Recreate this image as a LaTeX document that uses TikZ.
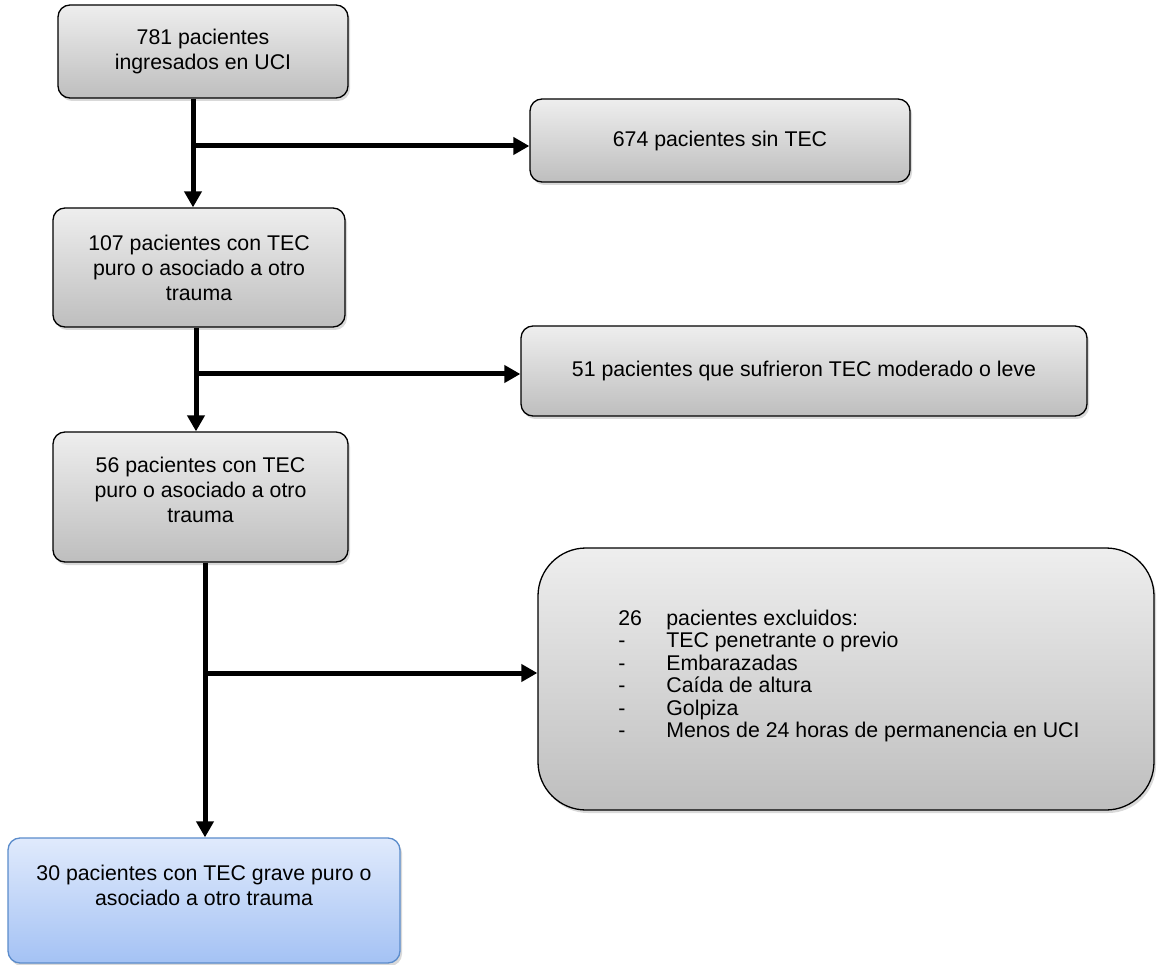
\documentclass[tikz,border=0pt]{standalone}
\usepackage{fontspec}
\setmainfont{Liberation Sans}
\usetikzlibrary{shadows,arrows.meta,calc}
\newcommand\myfsz{\fontsize{21.3}{25}\selectfont}
\definecolor{boxtop}{HTML}{EEEEEE}
\definecolor{boxbot}{HTML}{BEBEBE}
\definecolor{bluetop}{HTML}{E0EAFC}
\definecolor{bluebot}{HTML}{A4C2F4}
\definecolor{blueline}{HTML}{5B8CCB}
\begin{document}
\begin{tikzpicture}[x=1pt,y=-1pt,
  box/.style={draw=black, line width=1.3pt, rounded corners=12pt,
    top color=boxtop, bottom color=boxbot,
    drop shadow={shadow xshift=2pt,shadow yshift=-3pt,opacity=0.3},
    inner sep=0pt, align=center, font=\myfsz},
  bluebox/.style={box, draw=blueline, top color=bluetop, bottom color=bluebot},
  arr/.style={line width=5pt, -{Triangle[length=16pt,width=17pt]}},
  txt/.style={align=center, font=\myfsz, inner sep=0pt}
]
\useasboundingbox (0,0) rectangle (1157,965);

\node[box, minimum width=290pt, minimum height=93pt] (b1) at (203,51.5)
  {781 pacientes\\ingresados en UCI};
\node[box, minimum width=380pt, minimum height=83pt] (b2) at (720,140.5)
  {674 pacientes sin TEC};
\node[box, minimum width=292pt, minimum height=119pt] (b3) at (199,267.5)
  {107 pacientes con TEC\\puro o asociado a otro\\trauma};
\node[box, minimum width=566pt, minimum height=90pt] (b4) at (804,371)
  {51 pacientes que sufrieron TEC moderado o leve};
\node[box, minimum width=295pt, minimum height=130pt,
  label={[txt, yshift=7pt]center:{56 pacientes con TEC\\puro o asociado a otro\\trauma}}] (b5) at (200.5,497) {};
\node[box, rounded corners=48pt, minimum width=616pt, minimum height=262pt,
  label={[txt, xshift=3pt, yshift=2pt]center:{\fontsize{21.3}{22.5}\selectfont
    \begin{tabular}{@{}p{48pt}@{}l@{}}
    26 & pacientes excluidos:\\
    - & TEC penetrante o previo\\
    - & Embarazadas\\
    - & Caída de altura\\
    - & Golpiza\\
    - & Menos de 24 horas de permanencia en UCI
    \end{tabular}}}] (b6) at (846,679) {};
\node[bluebox, minimum width=392pt, minimum height=125pt,
  label={[txt, yshift=15pt]center:{30 pacientes con TEC grave puro o\\asociado a otro trauma}}] (b7) at (204,900.5) {};

\coordinate (v1) at (193,0);
\coordinate (v2) at (196,0);
\coordinate (v3) at (205,0);
\coordinate (j1) at (193,146);
\coordinate (j2) at (196,374);
\coordinate (j3) at (205,673);

\draw[arr] (b1.south -| v1) -- (b3.north -| v1);
\draw[arr] (j1) -- (b2.west |- j1);
\draw[arr] (b3.south -| v2) -- (b5.north -| v2);
\draw[arr] (j2) -- (b4.west |- j2);
\draw[arr] (b5.south -| v3) -- (b7.north -| v3);
\draw[arr] (j3) -- (b6.west |- j3);
\end{tikzpicture}
\end{document}
